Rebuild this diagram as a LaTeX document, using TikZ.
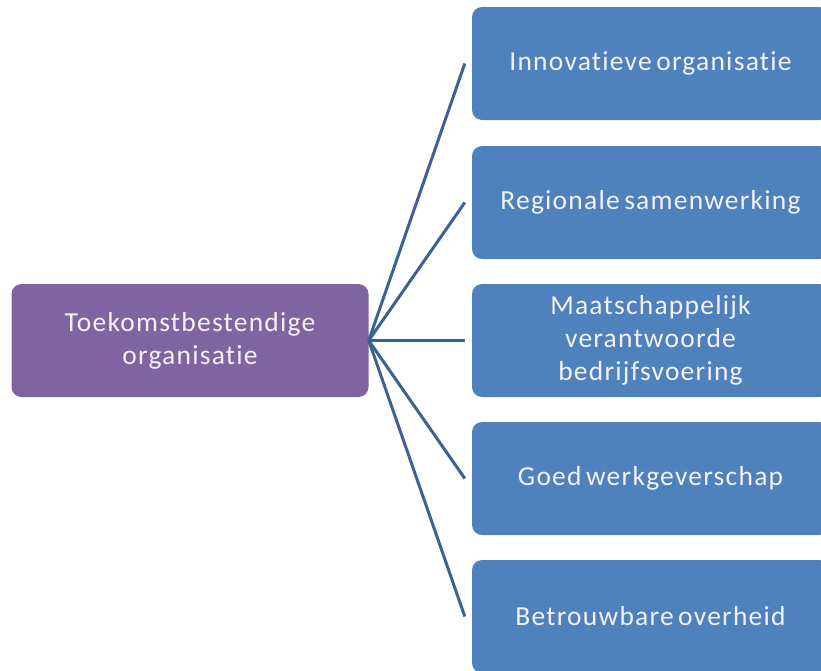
\documentclass[tikz,border=0pt]{standalone}
\usepackage{fontspec}
\setmainfont{Carlito}[LetterSpace=4.5, WordSpace=0.6, Ligatures={NoCommon}]
\definecolor{boxblue}{HTML}{4F81BD}
\definecolor{boxpurple}{HTML}{8064A2}
\definecolor{linkblue}{HTML}{3A6293}
\definecolor{boxtext}{HTML}{F2F2F2}
\begin{document}
\begin{tikzpicture}[x=1pt,y=-1pt,
  box/.style={rectangle, rounded corners=10pt, minimum width=357pt, minimum height=113pt,
    text=boxtext, align=center, font=\fontsize{27.5}{33}\selectfont, inner sep=0pt},
  bluebox/.style={box, fill=boxblue},
  purplebox/.style={box, fill=boxpurple},
  link/.style={draw=linkblue, line width=3pt}]
\useasboundingbox (0,0) rectangle (821,670);
\clip (0,0) rectangle (821,670);
\node[purplebox] (root) at (190,340.5) {Toekomstbestendige\\organisatie};
\node[bluebox] (b1) at (650.5,63.5) {Innovatieve organisatie};
\node[bluebox] (b2) at (650.5,202.5) {Regionale samenwerking};
\node[bluebox] (b3) at (650.5,340.5) {Maatschappelijk\\verantwoorde\\bedrijfsvoering};
\node[bluebox] (b4) at (650.5,478.5) {Goed werkgeverschap};
\node[bluebox] (b5) at (650.5,616.5) {Betrouwbare overheid};
\foreach \i in {1,...,5}{
  \coordinate (e\i) at ([xshift=-7pt]b\i.west);
  \draw[link] (root.east) -- (e\i);
}
\end{tikzpicture}
\end{document}
